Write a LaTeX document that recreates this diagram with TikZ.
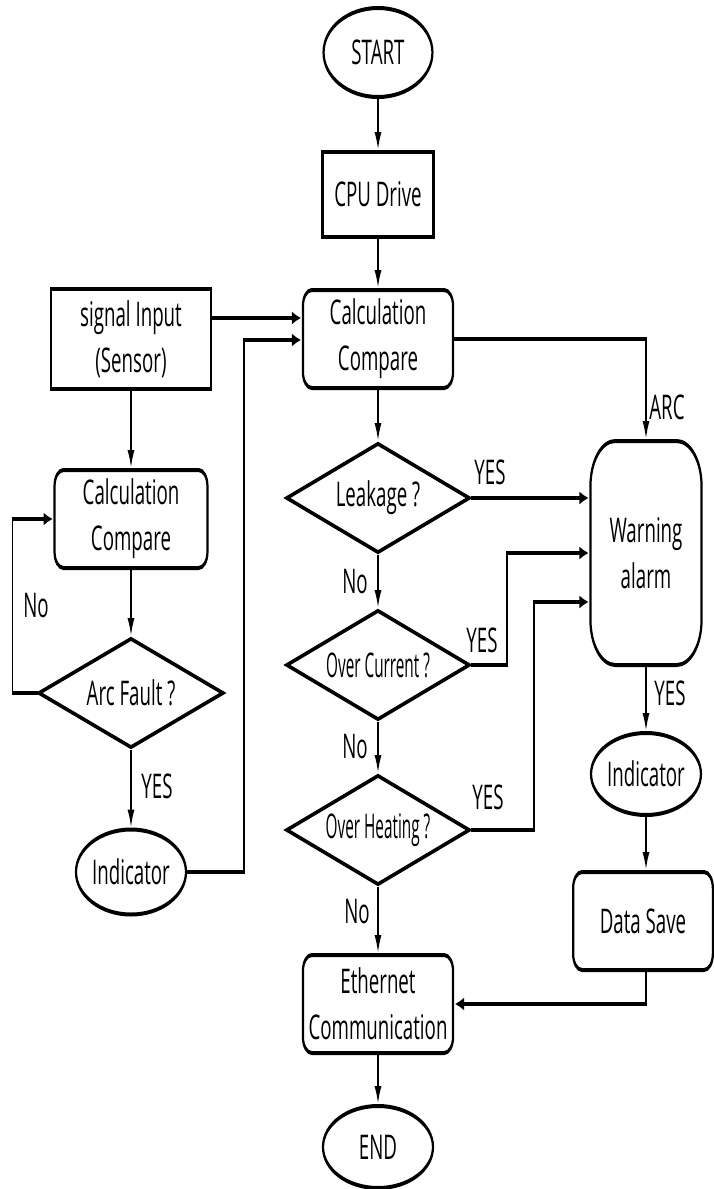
\documentclass[tikz,border=0pt]{standalone}
\usepackage{fontspec}
\setmainfont{Open Sans}
\usepackage{graphicx}
\usetikzlibrary{shapes.geometric,arrows.meta}
\tikzset{
  txt/.style={font=\fontsize{34}{46}\selectfont, text=black},
  box/.style={txt, draw, line width=4pt, rectangle, inner sep=0pt, align=center},
  rbox/.style={box, rounded corners=16pt},
  term/.style={txt, draw, line width=4pt, ellipse, inner sep=0pt, align=center},
  dec/.style={txt, draw, line width=4pt, diamond, aspect=3, inner sep=0pt, align=center},
  conn/.style={line width=3.6pt, -{Latex[length=18pt,width=13pt]}},
  lab/.style={txt, inner sep=0pt},
}
\begin{document}
\begin{tikzpicture}
\fill[white] (0pt,0pt) rectangle (713pt,-1189pt);
\useasboundingbox (0pt,0pt) rectangle (713pt,-1189pt);
\begin{scope}[transform canvas={xscale=0.55}, x=1.81818pt, y=-1pt]
% nodes
\node[term, minimum width=198pt, minimum height=89pt] (start) at (378,52.5) {START};
\node[box, minimum width=202pt, minimum height=85pt] (cpu) at (378,194.5) {CPU Drive};
\node[box, minimum width=291pt, minimum height=100pt] (sig) at (131,339) {signal Input\\(Sensor)};
\node[rbox, minimum width=273pt, minimum height=98pt] (calc1) at (378,339) {Calculation\\Compare};
\node[rbox, minimum width=278pt, minimum height=98pt] (calc2) at (131,519) {Calculation\\Compare};
\node[dec, minimum width=336pt, minimum height=110pt] (arc) at (131,693) {Arc Fault ?};
\node[term, minimum width=200pt, minimum height=85pt] (ind1) at (131,872) {Indicator};
\node[dec, minimum width=333pt, minimum height=110pt] (leak) at (378,498) {Leakage ?};
\node[dec, minimum width=333pt, minimum height=110pt] (oc) at (378,665) {\scalebox{0.82}[1]{Over Current ?}};
\node[dec, minimum width=333pt, minimum height=110pt] (oh) at (378,830) {\scalebox{0.82}[1]{Over Heating ?}};
\node[rbox, rounded corners=45pt, minimum width=202pt, minimum height=224pt] (warn) at (646,553) {Warning\\alarm};
\node[term, minimum width=195pt, minimum height=82pt] (ind2) at (646,774) {Indicator};
\node[rbox, minimum width=254pt, minimum height=98pt] (save) at (643,921) {Data Save};
\node[rbox, minimum width=273pt, minimum height=98pt] (eth) at (378,1004) {Ethernet\\Communication};
\node[term, minimum width=200pt, minimum height=82pt] (end) at (378,1147) {END};
% labels
\node[lab] (larc) at (667,407) {ARC};
\node[lab] (ly1) at (490,472) {YES};
\node[lab] (ly2) at (482,640) {YES};
\node[lab] (ly3) at (488,797) {YES};
\node[lab] (ly4) at (157,786) {YES};
\node[lab] (ly5) at (670,693) {YES};
\node[lab] (ln1) at (36,606) {No};
\node[lab] (ln2) at (355,582) {No};
\node[lab] (ln3) at (355,747) {No};
\node[lab] (ln4) at (357,912) {No};
% connectors
\coordinate (j1) at (244,340);
\draw[conn] (start) -- (cpu);
\draw[conn] (cpu) -- (calc1);
\draw[conn] ([yshift=21pt]sig.east) -- ([yshift=21pt]calc1.west);
\draw[conn] (ind1.east) -| (j1) -- (j1 -| calc1.west);
\draw[conn] (calc1.east) -| (warn.north);
\draw[conn] (sig) -- (calc2);
\draw[conn] (calc2) -- (arc);
\draw[conn] (arc.west) -- ++(-25,0) |- (calc2.west);
\draw[conn] (arc) -- (ind1);
\draw[conn] (calc1) -- (leak);
\draw[conn] (leak) -- (oc);
\draw[conn] (oc) -- (oh);
\draw[conn] (oh) -- (eth);
\draw[conn] (eth) -- (end);
\draw[conn] (leak.east) -- (leak.east -| warn.west);
\draw[conn] (oc.east) -- ++(36,0) |- (warn.west);
\draw[conn] (oh.east) -- ++(63,0) |- ([yshift=-49pt]warn.west);
\draw[conn] (warn) -- (ind2);
\draw[conn] (ind2.south) -- (ind2.south |- save.north);
\draw[conn] (save.south -| ind2.south) |- (eth.east);
\end{scope}
\end{tikzpicture}
\end{document}
